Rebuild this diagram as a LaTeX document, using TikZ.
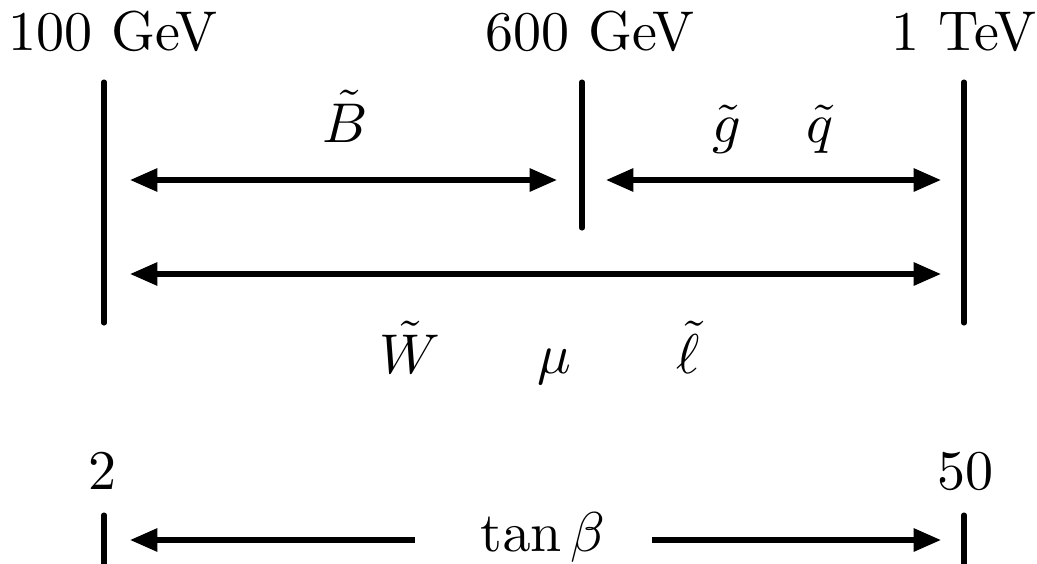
\documentclass[tikz,border=0pt]{standalone}
\usetikzlibrary{arrows.meta}
\begin{document}
\begin{tikzpicture}[x=0.1785pt,y=-0.1785pt,
  bar/.style={line width=0.9pt,line cap=round},
  dbl/.style={line width=0.9pt,{Triangle[length=4.9pt,width=4.0pt]}-{Triangle[length=4.9pt,width=4.0pt]}},
  lft/.style={line width=0.9pt,{Triangle[length=4.9pt,width=4.0pt]}-},
  rgt/.style={line width=0.9pt,-{Triangle[length=4.9pt,width=4.0pt]}},
  lab/.style={anchor=base,inner sep=0pt}]
\useasboundingbox (0,0) rectangle (1037,563);
\clip (0,0) rectangle (1037,563);
% vertical bars
\coordinate (v1t) at (104,82); \coordinate (v1b) at (104,323);
\coordinate (v2t) at (582,82); \coordinate (v2b) at (582,228);
\coordinate (v3t) at (964,82); \coordinate (v3b) at (964,323);
\coordinate (t1t) at (104,515); \coordinate (t1b) at (104,575);
\coordinate (t2t) at (964,515); \coordinate (t2b) at (964,575);
\draw[bar] (v1t) -- (v1b);
\draw[bar] (v2t) -- (v2b);
\draw[bar] (v3t) -- (v3b);
\draw[bar] (t1t) -- (t1b);
\draw[bar] (t2t) -- (t2b);
% scale labels
\node[lab] (l100) at (113,50) {100 GeV};
\node[lab] (l600) at (590,50) {600 GeV};
\node[lab] (l1T) at (964,50) {1 TeV};
\node[lab] (l2) at (103,489) {2};
\node[lab] (l50) at (965,489) {50};
% arrows
\coordinate (a1) at (130,180); \coordinate (a2) at (557,180);
\coordinate (b1) at (606,180); \coordinate (b2) at (941,180);
\coordinate (c1) at (130,274); \coordinate (c2) at (941,274);
\draw[dbl] (a1) -- (a2);
\draw[dbl] (b1) -- (b2);
\draw[dbl] (c1) -- (c2);
% particle labels
\node[lab] (B) at (345,142) {$\tilde B$};
\node[lab] (g) at (727,142) {$\tilde g$};
\node[lab] (q) at (820,142) {$\tilde q$};
\node[lab] (W) at (410,373) {$\tilde W$};
\node[lab] (mu) at (554,373) {$\mu$};
\node[lab] (ell) at (688,373) {$\tilde\ell$};
% tan beta
\node[lab] (tb) at (543,551) {$\tan\beta$};
\coordinate (d1) at (130,540); \coordinate (d2) at (415,540);
\coordinate (e1) at (652,540); \coordinate (e2) at (941,540);
\draw[lft] (d1) -- (d2);
\draw[rgt] (e1) -- (e2);
\end{tikzpicture}
\end{document}
